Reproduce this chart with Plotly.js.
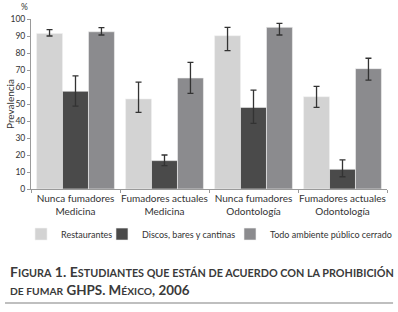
<!DOCTYPE html>
<html>
<head>
<meta charset="utf-8">
<script src="https://cdn.plot.ly/plotly-3.0.1.min.js"></script>
<style>html,body{margin:0;padding:0;background:#fff;}#chart{width:398px;height:312px;}</style>
</head>
<body>
<div id="chart"></div>
<script>
const categories = ["Nunca fumadores<br>Medicina", "Fumadores actuales<br>Medicina", "Nunca fumadores<br>Odontología", "Fumadores actuales<br>Odontología"];
const seriesNames = ["Restaurantes", "Discos, bares y cantinas", "Todo ambiente público cerrado"];
const restaurantes = [91.5, 53, 90.2, 54.3];
const restaurantesUpper = [93.7, 62.9, 95.1, 60.4];
const restaurantesLower = [90, 45.1, 81.4, 48];
const discos = [57.5, 16.7, 48, 11.6];
const discosUpper = [66.5, 20, 58.2, 17.1];
const discosLower = [48.8, 13.7, 38.6, 7.2];
const todo = [92.5, 65.3, 95.1, 70.8];
const todoUpper = [94.9, 74.5, 97.4, 76.9];
const todoLower = [90.6, 56.3, 90.6, 64.1];
const yTicks = [0, 10, 20, 30, 40, 50, 60, 70, 80, 90, 100];

const colors = ["#d3d3d3", "#4a4a4a", "#8b8b8e"];
const vals = [restaurantes, discos, todo];
const ups = [restaurantesUpper, discosUpper, todoUpper];
const lows = [restaurantesLower, discosLower, todoLower];
const legendIds = ["legend", "legend2", "legend3"];

const traces = vals.map((v, i) => ({
  type: "bar",
  name: seriesNames[i],
  legend: legendIds[i],
  x: categories,
  y: v,
  marker: {color: colors[i], line: {color: "#f2f2f2", width: 0.6}},
  error_y: {
    type: "data", symmetric: false,
    array: v.map((val, k) => ups[i][k] - val),
    arrayminus: v.map((val, k) => val - lows[i][k]),
    color: "#333333", thickness: 1.3, width: 3
  }
}));

const F = "Lato, 'Open Sans', sans-serif";
const sc = (s, sz) => '<span style="font-size:' + sz + 'px">' + s + '</span>';

const legBase = (x) => ({orientation: "h", x: x, xanchor: "left", y: -0.265, yanchor: "middle",
  font: {family: F, size: 9, color: "#333"}, itemwidth: 30, bgcolor: "rgba(0,0,0,0)"});

const layout = {
  width: 398, height: 312,
  margin: {l: 31, r: 11, t: 19, b: 123, autoexpand: false},
  paper_bgcolor: "#fff", plot_bgcolor: "#fff",
  font: {family: F, color: "#333", size: 10},
  barmode: "group",
  bargap: 0.125, bargroupgap: 0,
  showlegend: true,
  legend: legBase(-0.028),
  legend2: legBase(0.1994),
  legend3: legBase(0.559),
  xaxis: {
    type: "category", showgrid: false, zeroline: false,
    showline: true, linecolor: "#9a9a9a", linewidth: 1,
    ticks: "outside", tickson: "boundaries", ticklen: 3, tickcolor: "#9a9a9a",
    tickangle: 0, automargin: false,
    tickfont: {family: F, size: 10, color: "#333"}
  },
  yaxis: {
    range: [0, 100], tickvals: yTicks, showgrid: false, zeroline: false,
    showline: true, linecolor: "#9a9a9a", linewidth: 1,
    ticks: "outside", ticklen: 3, tickcolor: "#9a9a9a", automargin: false,
    tickfont: {family: F, size: 8.5, color: "#333"}
  },
  annotations: [
    {xref: "paper", yref: "paper", x: -0.017, y: 1.07, text: "%", showarrow: false,
     font: {family: F, size: 8.5, color: "#333"}, xanchor: "center", yanchor: "middle"},
    {xref: "paper", yref: "paper", x: -0.059, y: 0.5, text: "Prevalencia", showarrow: false,
     textangle: -90, font: {family: F, size: 10, color: "#333"}, xanchor: "center", yanchor: "middle"},
    {xref: "paper", yref: "paper", x: -0.0646, y: -0.488, xanchor: "left", yanchor: "middle", showarrow: false,
     text: "<b>F" + sc("IGURA", 10.8) + " 1. E" + sc("STUDIANTES QUE ESTÁN DE ACUERDO CON LA PROHIBICIÓN", 10.8) + "</b>",
     font: {family: F, size: 14, color: "#3a3a3a"}},
    {xref: "paper", yref: "paper", x: -0.0646, y: -0.594, xanchor: "left", yanchor: "middle", showarrow: false,
     text: "<b>" + sc("DE FUMAR", 10.3) + " GHPS. M" + sc("ÉXICO", 10.3) + ", 2006</b>",
     font: {family: F, size: 13.4, color: "#3a3a3a"}}
  ],
  shapes: [
    {type: "line", xref: "paper", yref: "paper", x0: -0.073, x1: 1.017, y0: -0.6706, y1: -0.6706,
     line: {color: "#aaaaaa", width: 1.5}}
  ]
};

Plotly.newPlot("chart", traces, layout, {displayModeBar: false, staticPlot: true});
</script>
</body>
</html>
